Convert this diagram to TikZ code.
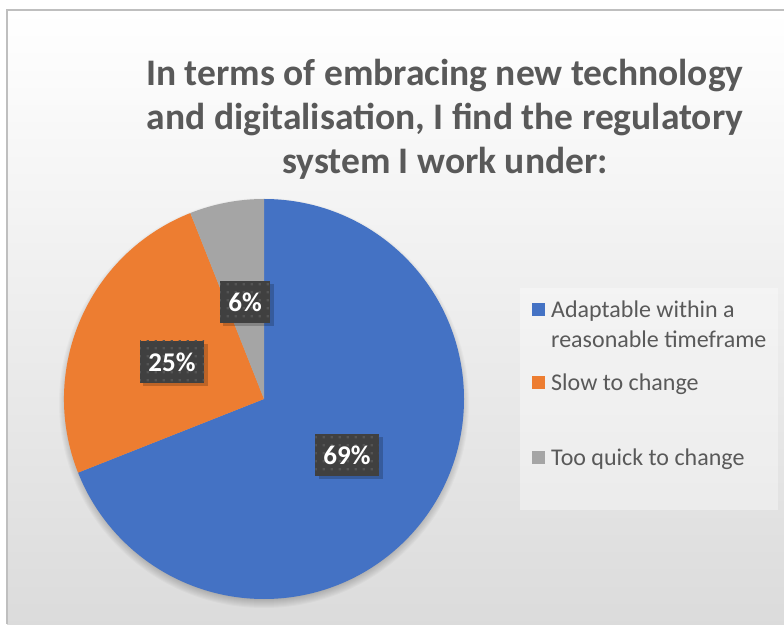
\documentclass[tikz,border=0pt]{standalone}
\usepackage{fontspec}
\setmainfont{Carlito}
\usetikzlibrary{patterns.meta}
\definecolor{pieblue}{HTML}{4472C4}
\definecolor{pieorange}{HTML}{ED7D31}
\definecolor{piegray}{HTML}{A5A5A5}
\definecolor{boxdark}{HTML}{404040}
\definecolor{boxdot}{HTML}{545454}
\definecolor{txtgray}{HTML}{595959}
\tikzdeclarepattern{name=labeldots, type=uncolored,
  bounding box={(0pt,0pt) and (8pt,8pt)}, tile size={(8pt,8pt)},
  code={\fill (3pt,3pt) rectangle (5.5pt,5.5pt);}}
\begin{document}
\begin{tikzpicture}[x=1pt, y=1pt]

      \tikzset{pct/.style={preaction={fill=boxdark}, pattern={labeldots}, pattern color=boxdot, text=white,
               font=\fontsize{27}{30}\selectfont\bfseries, inner xsep=8pt, minimum height=42pt}}
      \tikzset{legkey/.style={minimum size=13pt, inner sep=0pt}}
      \tikzset{legtext/.style={anchor=north west, text=txtgray, font=\fontsize{24}{30}\selectfont, inner sep=0pt, align=left}}
%% Frame
      \useasboundingbox (0,0) rectangle (784,624);
      \fill[white] (0,0) rectangle (784,624);
      \shade[top color=white, bottom color=black!14] (7,0) rectangle (784,614);
      \draw[black!25, line width=1.5pt] (7,0) -- (7,614) -- (784,614);
%% Title
      \node[text=txtgray, font=\fontsize{37.5}{44}\selectfont\bfseries, align=center] (title) at (445,505)
           {In terms of embracing new technology\\and digitalisation, I find the regulatory\\system I work under:};
%% Shadow
      \foreach \i in {0,...,9}
        \fill[black, opacity=0.025] (264,221) circle (196+\i);
%% Slices
      \coordinate (c) at (264,225);
      \fill[pieblue] (c) -- ++(90:200) arc (90:-158.4:200) -- cycle;
      \fill[pieorange] (c) -- ++(201.6:200) arc (201.6:111.6:200) -- cycle;
      \fill[piegray] (c) -- ++(111.6:200) arc (111.6:90:200) -- cycle;
%% Labels
      \foreach \x/\y/\w in {245/322/50, 172/262/64, 347/169/63}
        \fill[black, opacity=0.2] (\x-\w/2+3,\y-24) rectangle (\x+\w/2+4,\y+18);
      \node[pct, minimum width=50pt] (q6) at (245,322) {6\%};
      \node[pct, minimum width=64pt] (q25) at (172,262) {25\%};
      \node[pct, minimum width=63pt] (q69) at (347,169) {69\%};
%% Legend
      \fill[white, opacity=0.35] (520,114) rectangle (778,336);
      \node[legkey, fill=pieblue] (k1) at (538.5,314) {};
      \node[legkey, fill=pieorange] (k2) at (538.5,241) {};
      \node[legkey, fill=piegray] (k3) at (538.5,166) {};
      \node[legtext] (t1) at (551,323) {Adaptable within a\\reasonable timeframe};
      \node[legtext] (t2) at (551,250) {Slow to change};
      \node[legtext] (t3) at (551,175) {Too quick to change};

	\end{tikzpicture}
\end{document}
